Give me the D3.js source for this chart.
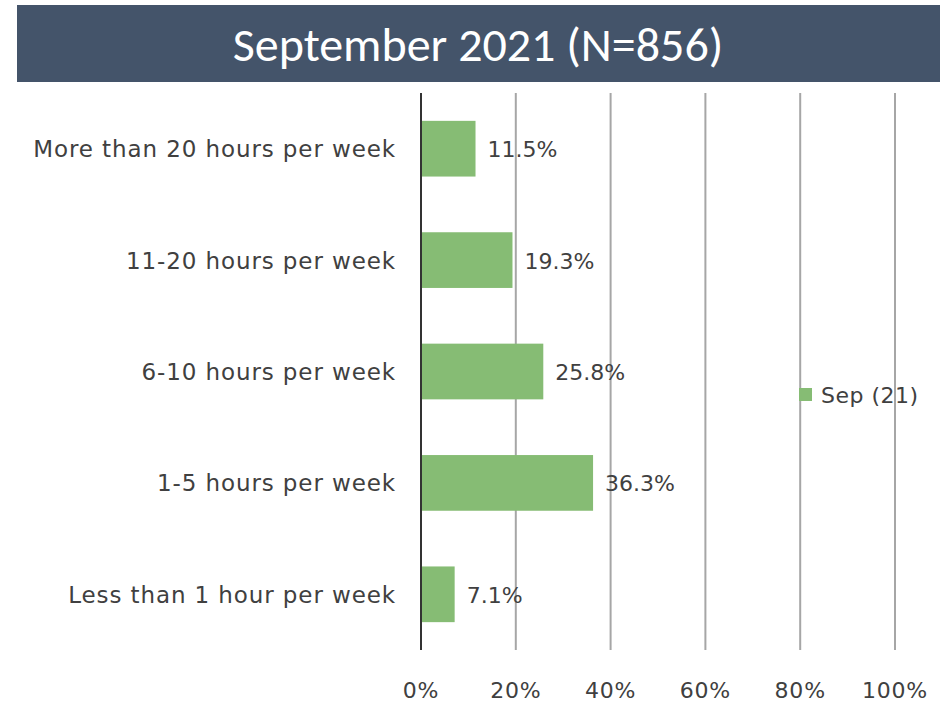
<!DOCTYPE html>
<html>
<head>
<meta charset="utf-8">
<script src="https://cdn.jsdelivr.net/npm/d3@7"></script>
<style>
  body { margin: 0; background: #fff; }
  svg { display: block; }
</style>
</head>
<body>
<div id="chart"></div>
<script>
'use strict';

var categories = [
  "More than 20 hours per week",
  "11-20 hours per week",
  "6-10 hours per week",
  "1-5 hours per week",
  "Less than 1 hour per week"
];
var values = [11.5, 19.3, 25.8, 36.3, 7.1];
var ticks = [0, 20, 40, 60, 80, 100];
var seriesName = "Sep (21)";
var title = "September 2021 (N=856)";

var W = 949, H = 705;
var barColor = "#86bc74";
var textColor = "#404040";
var font = "'DejaVu Sans', sans-serif";

var svg = d3.select("#chart").append("svg")
  .attr("width", W)
  .attr("height", H);

// title bar
svg.append("rect")
  .attr("x", 17).attr("y", 5)
  .attr("width", 923).attr("height", 77)
  .attr("fill", "#44546a");

svg.append("text")
  .attr("x", 478).attr("y", 44)
  .attr("text-anchor", "middle")
  .attr("dominant-baseline", "central")
  .style("font-family", "Carlito, 'Open Sans', sans-serif")
  .style("font-size", "48px")
  .attr("fill", "#fff")
  .text(title);

var x = d3.scaleLinear().domain([0, 100]).range([421, 895]);
var y = d3.scaleBand().domain(categories).range([93, 650]).paddingInner(0.5).paddingOuter(0.25);
var mid = d => y(d) + y.bandwidth() / 2;

// gridlines
svg.append("g")
  .selectAll("line")
  .data(ticks.slice(1))
  .enter().append("line")
  .attr("x1", d => x(d)).attr("x2", d => x(d))
  .attr("y1", 93).attr("y2", 650)
  .attr("stroke", "#a6a6a6")
  .attr("stroke-width", 2);

// bars
svg.append("g")
  .selectAll("rect")
  .data(values)
  .enter().append("rect")
  .attr("x", x(0))
  .attr("y", (d, i) => y(categories[i]))
  .attr("width", d => x(d) - x(0))
  .attr("height", y.bandwidth())
  .attr("fill", barColor);

// zero line
svg.append("line")
  .attr("x1", x(0)).attr("x2", x(0))
  .attr("y1", 93).attr("y2", 650)
  .attr("stroke", "#333")
  .attr("stroke-width", 2);

// value labels
svg.append("g")
  .selectAll("text")
  .data(values)
  .enter().append("text")
  .attr("x", d => x(d) + 12)
  .attr("y", (d, i) => mid(categories[i]) + 8.5)
  .style("font-family", font)
  .style("font-size", "22px")
  .attr("fill", textColor)
  .text(d => d.toFixed(1) + "%");

// category labels
svg.append("g")
  .selectAll("text")
  .data(categories)
  .enter().append("text")
  .attr("x", 396)
  .attr("y", d => mid(d) + 8.5)
  .attr("text-anchor", "end")
  .style("font-family", font)
  .style("font-size", "23px")
  .style("letter-spacing", "0.9px")
  .attr("fill", textColor)
  .text(d => d);

// x axis labels
svg.append("g")
  .selectAll("text")
  .data(ticks)
  .enter().append("text")
  .attr("x", d => x(d))
  .attr("y", 698)
  .attr("text-anchor", "middle")
  .style("font-family", font)
  .style("font-size", "22px")
  .style("letter-spacing", "0.8px")
  .attr("fill", textColor)
  .text(d => d + "%");

// legend
svg.append("rect")
  .attr("x", 799).attr("y", 388)
  .attr("width", 13).attr("height", 13)
  .attr("fill", barColor);

svg.append("text")
  .attr("x", 821).attr("y", 403)
  .style("font-family", font)
  .style("font-size", "22px")
  .style("letter-spacing", "0.5px")
  .attr("fill", textColor)
  .text(seriesName);
</script>
</body>
</html>
